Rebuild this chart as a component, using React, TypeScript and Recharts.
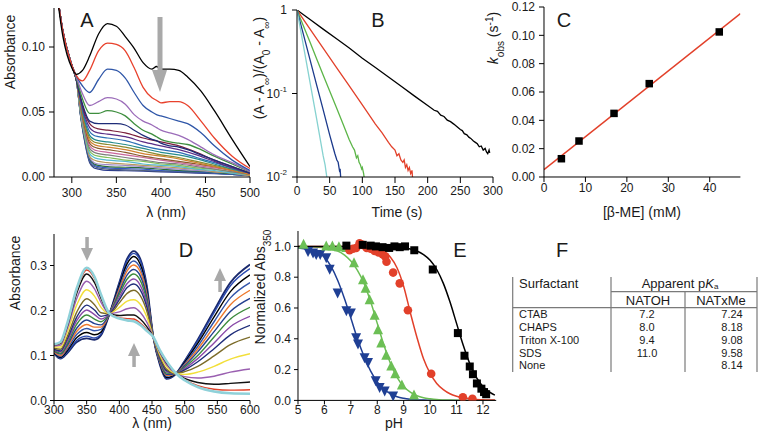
import React from "react";
import { LineChart, ComposedChart, Line, Scatter, XAxis, YAxis } from "recharts";

const FONT = "'Liberation Sans', Arial, Helvetica, sans-serif";
const INK = "#1a1a1a";
const GREY = "#a9a9a9";

// ---------- A: spectra (absorbance vs wavelength) ----------
const A_WL = [280, 290, 300, 305, 312, 320, 330, 340, 350, 360, 370, 380, 390, 395, 400, 410, 420, 430, 445, 460, 480, 500];
const A_BLACK = [0.16, 0.108, 0.084, 0.079, 0.082, 0.093, 0.11, 0.118, 0.116, 0.108, 0.099, 0.088, 0.083, 0.085, 0.083, 0.083, 0.082, 0.077, 0.066, 0.051, 0.029, 0.008];
const A_RED = [0.16, 0.112, 0.086, 0.078, 0.074, 0.082, 0.097, 0.103, 0.102, 0.097, 0.084, 0.069, 0.061, 0.059, 0.057, 0.058, 0.058, 0.055, 0.043, 0.03, 0.016, 0.0065];
const A_BLUE = [0.16, 0.112, 0.086, 0.078, 0.07, 0.065, 0.075, 0.083, 0.082, 0.076, 0.065, 0.055, 0.05, 0.048, 0.047, 0.045, 0.043, 0.041, 0.034, 0.024, 0.013, 0.005];
const A_PURPLE = [0.16, 0.112, 0.086, 0.077, 0.064, 0.055, 0.058, 0.061, 0.06, 0.056, 0.048, 0.043, 0.04, 0.038, 0.036, 0.034, 0.032, 0.029, 0.023, 0.017, 0.011, 0.004];
const A_GREEN = [0.16, 0.112, 0.086, 0.076, 0.06, 0.049, 0.049, 0.051, 0.05, 0.047, 0.041, 0.036, 0.033, 0.031, 0.029, 0.027, 0.026, 0.025, 0.021, 0.016, 0.01, 0.004];
const A_NAVY = [0.16, 0.112, 0.086, 0.075, 0.056, 0.043, 0.041, 0.041, 0.041, 0.04, 0.036, 0.032, 0.029, 0.028, 0.026, 0.024, 0.023, 0.021, 0.017, 0.013, 0.008, 0.003];

// the crowded late spectra near the baseline
const A_WL_LOW = [280, 290, 300, 305, 310, 315, 320, 325, 330, 340, 360, 380, 400, 420, 440, 460, 480, 500];
const A_LOW = [
  [0.16, 0.112, 0.086, 0.075, 0.06, 0.048, 0.041, 0.038, 0.037, 0.036, 0.034, 0.03, 0.027, 0.024, 0.019, 0.013, 0.008, 0.003],
  [0.16, 0.112, 0.086, 0.075, 0.059, 0.046, 0.038, 0.035, 0.034, 0.033, 0.031, 0.027, 0.024, 0.021, 0.017, 0.012, 0.007, 0.003],
  [0.16, 0.112, 0.086, 0.075, 0.058, 0.044, 0.035, 0.032, 0.031, 0.03, 0.028, 0.024, 0.021, 0.019, 0.015, 0.011, 0.007, 0.003],
  [0.16, 0.112, 0.086, 0.075, 0.057, 0.042, 0.032, 0.029, 0.028, 0.027, 0.025, 0.022, 0.019, 0.017, 0.014, 0.01, 0.006, 0.003],
  [0.16, 0.112, 0.086, 0.075, 0.056, 0.04, 0.03, 0.027, 0.026, 0.025, 0.023, 0.02, 0.017, 0.015, 0.012, 0.009, 0.006, 0.003],
  [0.16, 0.112, 0.086, 0.075, 0.055, 0.039, 0.028, 0.025, 0.024, 0.023, 0.021, 0.018, 0.016, 0.014, 0.011, 0.008, 0.005, 0.002],
  [0.16, 0.112, 0.086, 0.075, 0.054, 0.037, 0.026, 0.023, 0.022, 0.021, 0.019, 0.016, 0.014, 0.012, 0.01, 0.008, 0.005, 0.002],
  [0.16, 0.112, 0.086, 0.075, 0.053, 0.036, 0.024, 0.021, 0.02, 0.019, 0.017, 0.015, 0.013, 0.011, 0.009, 0.007, 0.005, 0.002],
  [0.16, 0.112, 0.086, 0.075, 0.052, 0.034, 0.022, 0.019, 0.018, 0.017, 0.015, 0.013, 0.011, 0.01, 0.008, 0.006, 0.004, 0.002],
  [0.16, 0.112, 0.086, 0.075, 0.051, 0.033, 0.02, 0.017, 0.016, 0.015, 0.013, 0.012, 0.01, 0.009, 0.007, 0.006, 0.004, 0.002],
  [0.16, 0.112, 0.086, 0.075, 0.05, 0.031, 0.018, 0.015, 0.014, 0.013, 0.012, 0.01, 0.009, 0.008, 0.006, 0.005, 0.003, 0.002],
  [0.16, 0.112, 0.086, 0.075, 0.049, 0.03, 0.016, 0.013, 0.012, 0.011, 0.01, 0.009, 0.008, 0.007, 0.006, 0.004, 0.003, 0.001],
  [0.16, 0.112, 0.086, 0.075, 0.048, 0.029, 0.015, 0.011, 0.01, 0.0095, 0.009, 0.008, 0.007, 0.006, 0.005, 0.004, 0.003, 0.001],
  [0.16, 0.112, 0.086, 0.075, 0.047, 0.028, 0.014, 0.01, 0.009, 0.008, 0.0075, 0.007, 0.006, 0.005, 0.0045, 0.0035, 0.0025, 0.001],
  [0.16, 0.112, 0.086, 0.075, 0.047, 0.027, 0.013, 0.009, 0.008, 0.007, 0.0065, 0.006, 0.005, 0.0045, 0.004, 0.003, 0.002, 0.001],
  [0.16, 0.112, 0.086, 0.075, 0.046, 0.026, 0.012, 0.008, 0.007, 0.006, 0.0055, 0.005, 0.0045, 0.004, 0.0035, 0.003, 0.002, 0.001],
  [0.16, 0.112, 0.086, 0.075, 0.046, 0.025, 0.011, 0.007, 0.006, 0.005, 0.0048, 0.0045, 0.004, 0.0035, 0.003, 0.0025, 0.002, 0.001],
];
const A_LOW_COLORS = ["#7a1f3d", "#5b2d86", "#2e6fb5", "#258c8c", "#8c8a2e", "#d2802f", "#8a5a2c", "#c9679c", "#7d7d7d", "#7fbf5a", "#55b9cf", "#b89a5a", "#9a86c9", "#2b6b3c", "#3558c0", "#4f5f7a", "#2a3b8f"];

// ---------- B: normalized decays (time in s, ratio) ----------
const B_BLACK: [number, number][] = [[0, 1], [20, 0.77], [40, 0.59], [60, 0.455], [80, 0.35], [100, 0.265], [120, 0.205], [140, 0.158], [160, 0.121], [180, 0.093], [200, 0.072], [210, 0.063], [215, 0.061], [220, 0.055], [225, 0.053], [230, 0.048], [235, 0.046], [240, 0.043], [245, 0.04], [250, 0.037], [253, 0.036], [256, 0.033], [260, 0.032], [263, 0.03], [266, 0.029], [270, 0.027], [273, 0.026], [276, 0.025], [279, 0.023], [282, 0.0235], [285, 0.021], [288, 0.022], [290, 0.02], [292, 0.019], [294, 0.021], [295, 0.0195]];
const B_RED: [number, number][] = [[0, 1], [20, 0.59], [40, 0.35], [60, 0.207], [80, 0.123], [100, 0.073], [120, 0.043], [130, 0.034], [140, 0.026], [145, 0.023], [150, 0.021], [153, 0.018], [156, 0.019], [159, 0.016], [162, 0.015], [164, 0.016], [166, 0.013], [168, 0.014], [170, 0.012], [172, 0.013], [174, 0.011], [176, 0.012], [177, 0.0095]];
const B_GREEN: [number, number][] = [[0, 1], [10, 0.64], [20, 0.41], [30, 0.26], [40, 0.167], [50, 0.107], [60, 0.069], [70, 0.044], [80, 0.028], [85, 0.023], [88, 0.021], [91, 0.017], [93, 0.018], [95, 0.015], [97, 0.014], [99, 0.0125], [100, 0.013], [102, 0.011], [103, 0.0095]];
const B_NAVY: [number, number][] = [[0, 1], [10, 0.503], [20, 0.253], [30, 0.127], [40, 0.064], [50, 0.032], [55, 0.023], [58, 0.019], [61, 0.016], [63, 0.015], [65, 0.012], [66, 0.0125], [67, 0.0095]];
const B_CYAN: [number, number][] = [[0, 1], [10, 0.367], [20, 0.135], [30, 0.05], [35, 0.03], [40, 0.018], [43, 0.014], [46, 0.0095]];

// ---------- C: k_obs vs [β-ME] ----------
const C_CONC = [4.2, 8.45, 16.9, 25.4, 42.3];
const C_KOBS = [0.0129, 0.0254, 0.0449, 0.0659, 0.1024];
const C_FIT_X = [0, 47.4];
const C_FIT_Y = [0.0052, 0.1153];

// ---------- D: pH series spectra ----------
const D_WL = [300, 310, 320, 335, 350, 362, 372, 385, 400, 412, 422, 432, 442, 452, 462, 472, 487, 500, 520, 545, 570, 600];
const D_SPECTRA = [
  [0.125, 0.13, 0.17, 0.25, 0.295, 0.275, 0.235, 0.193, 0.182, 0.178, 0.176, 0.168, 0.155, 0.141, 0.112, 0.088, 0.06, 0.045, 0.03, 0.02, 0.016, 0.015],
  [0.124, 0.129, 0.168, 0.246, 0.29, 0.271, 0.232, 0.193, 0.184, 0.182, 0.181, 0.172, 0.158, 0.141, 0.111, 0.087, 0.06, 0.046, 0.033, 0.025, 0.023, 0.024],
  [0.123, 0.127, 0.164, 0.239, 0.281, 0.262, 0.227, 0.193, 0.189, 0.19, 0.19, 0.181, 0.164, 0.141, 0.109, 0.084, 0.06, 0.049, 0.04, 0.036, 0.038, 0.041],
  [0.121, 0.123, 0.158, 0.227, 0.265, 0.248, 0.218, 0.193, 0.197, 0.204, 0.206, 0.196, 0.174, 0.141, 0.106, 0.08, 0.06, 0.053, 0.05, 0.054, 0.063, 0.07],
  [0.119, 0.119, 0.15, 0.213, 0.246, 0.232, 0.207, 0.193, 0.207, 0.221, 0.224, 0.214, 0.186, 0.141, 0.102, 0.076, 0.06, 0.058, 0.063, 0.076, 0.092, 0.104],
  [0.116, 0.114, 0.141, 0.197, 0.226, 0.213, 0.195, 0.193, 0.217, 0.238, 0.245, 0.233, 0.199, 0.141, 0.098, 0.07, 0.06, 0.064, 0.076, 0.099, 0.124, 0.141],
  [0.114, 0.11, 0.136, 0.186, 0.212, 0.201, 0.187, 0.193, 0.224, 0.251, 0.259, 0.246, 0.208, 0.141, 0.095, 0.067, 0.06, 0.068, 0.086, 0.115, 0.146, 0.167],
  [0.113, 0.108, 0.131, 0.178, 0.201, 0.191, 0.181, 0.193, 0.23, 0.26, 0.27, 0.256, 0.215, 0.141, 0.093, 0.064, 0.06, 0.071, 0.093, 0.128, 0.164, 0.187],
  [0.112, 0.105, 0.126, 0.17, 0.19, 0.181, 0.175, 0.193, 0.236, 0.27, 0.281, 0.267, 0.222, 0.141, 0.091, 0.061, 0.06, 0.074, 0.1, 0.141, 0.181, 0.207],
  [0.11, 0.103, 0.122, 0.161, 0.179, 0.171, 0.168, 0.193, 0.241, 0.279, 0.291, 0.277, 0.229, 0.141, 0.088, 0.058, 0.06, 0.077, 0.108, 0.153, 0.198, 0.227],
  [0.109, 0.1, 0.118, 0.154, 0.169, 0.163, 0.163, 0.193, 0.246, 0.288, 0.301, 0.286, 0.235, 0.141, 0.086, 0.056, 0.06, 0.079, 0.114, 0.164, 0.213, 0.245],
  [0.108, 0.098, 0.114, 0.147, 0.16, 0.155, 0.158, 0.193, 0.251, 0.296, 0.31, 0.294, 0.241, 0.141, 0.085, 0.054, 0.06, 0.082, 0.12, 0.175, 0.228, 0.262],
  [0.107, 0.096, 0.11, 0.14, 0.151, 0.146, 0.152, 0.193, 0.256, 0.304, 0.32, 0.303, 0.247, 0.141, 0.083, 0.051, 0.06, 0.085, 0.127, 0.186, 0.242, 0.279],
  [0.106, 0.094, 0.107, 0.134, 0.143, 0.139, 0.148, 0.193, 0.26, 0.311, 0.327, 0.311, 0.252, 0.141, 0.081, 0.049, 0.06, 0.087, 0.132, 0.195, 0.255, 0.293],
  [0.105, 0.093, 0.105, 0.13, 0.138, 0.135, 0.145, 0.193, 0.262, 0.315, 0.332, 0.315, 0.255, 0.141, 0.08, 0.048, 0.06, 0.088, 0.135, 0.2, 0.262, 0.302],
];
const D_COLORS = ["#8fd1d9", "#e2432a", "#111111", "#9a5fb0", "#f2df3a", "#7c6c2a", "#1f2d7a", "#8a4aa8", "#3d8b3d", "#24418f", "#ee7a2e", "#3355aa", "#000000", "#2a4ab0", "#1b2a6e"];

// ---------- E: normalized Abs350 vs pH ----------
const E_SDS_PH = [6.83, 7.45, 7.75, 7.95, 8.2, 8.45, 8.65, 8.85, 9.05, 9.4, 10.1, 11.05, 11.3, 11.5, 11.62, 11.77, 11.94, 12.04, 12.12];
const E_SDS_A = [1.005, 1.01, 1.005, 1.0, 0.995, 0.99, 1.0, 0.995, 1.0, 0.975, 0.85, 0.437, 0.29, 0.22, 0.17, 0.11, 0.076, 0.054, 0.04];
const E_TRITON_PH = [6.95, 7.08, 7.2, 7.33, 7.45, 7.6, 7.75, 7.9, 8.05, 8.2, 8.3, 8.35, 8.6, 8.85, 9.16, 10.04, 11.24, 11.6];
const E_TRITON_A = [0.975, 0.985, 0.99, 1.02, 1.01, 0.99, 0.985, 0.97, 0.96, 0.95, 0.935, 0.9, 0.83, 0.76, 0.585, 0.173, 0.02, 0.01];
const E_CHAPS_PH = [5.21, 6.07, 6.3, 6.55, 6.83, 7.12, 7.46, 7.56, 7.71, 7.9, 8.03, 8.15, 8.34, 8.53, 8.68, 8.93, 9.39];
const E_CHAPS_A = [1.01, 1.0, 1.0, 0.995, 0.99, 0.89, 0.78, 0.725, 0.65, 0.55, 0.455, 0.37, 0.29, 0.22, 0.17, 0.097, 0.032];
const E_CTAB_PH = [5.38, 5.57, 5.69, 5.84, 6.07, 6.2, 6.5, 6.83, 7.0, 7.2, 7.27, 7.52, 7.65, 7.94, 8.09, 8.28, 8.6];
const E_CTAB_A = [0.97, 0.96, 0.95, 0.95, 0.93, 0.855, 0.7, 0.585, 0.57, 0.41, 0.37, 0.28, 0.25, 0.13, 0.087, 0.065, 0.032];
const E_FIT_PH = [5, 5.5, 6, 6.25, 6.5, 6.75, 7, 7.25, 7.5, 7.75, 8, 8.25, 8.5, 8.75, 9, 9.25, 9.5, 9.75, 10, 10.25, 10.5, 10.75, 11, 11.25, 11.5, 11.75, 12, 12.25, 12.45];
const E_FIT_SDS = [1, 1, 1, 1, 1, 1, 1, 1, 1, 0.999, 0.999, 0.998, 0.997, 0.994, 0.99, 0.983, 0.97, 0.947, 0.91, 0.85, 0.76, 0.64, 0.5, 0.36, 0.24, 0.15, 0.091, 0.053, 0.034];
const E_FIT_TRITON = [1, 1, 1, 1, 1, 1, 1, 1, 1, 1, 0.985, 0.965, 0.93, 0.86, 0.74, 0.57, 0.41, 0.27, 0.175, 0.11, 0.07, 0.043, 0.027, 0.017, 0.01, 0.006, 0.004, 0.002, 0.002];
const E_FIT_CHAPS = [1, 0.998, 0.99, 0.98, 0.97, 0.945, 0.905, 0.845, 0.76, 0.64, 0.5, 0.36, 0.24, 0.15, 0.09, 0.053, 0.03, 0.017, 0.01, 0.005, 0.003, 0.002, 0.001, 0, 0, 0, 0, 0, 0];
const E_FIT_CTAB = [0.99, 0.975, 0.93, 0.87, 0.78, 0.665, 0.535, 0.4, 0.285, 0.19, 0.12, 0.072, 0.043, 0.024, 0.014, 0.008, 0.004, 0.002, 0.001, 0, 0, 0, 0, 0, 0, 0, 0, 0, 0];

// ---------- F: table ----------
const F_SURFACTANTS = ["CTAB", "CHAPS", "Triton X-100", "SDS", "None"];
const F_NATOH = [7.2, 8.0, 9.4, 11.0, null];
const F_NATXME = [7.24, 8.18, 9.08, 9.58, 8.14];

const zip = (xs: number[], ys: number[]) => xs.map((x, i) => ({ x, y: ys[i] }));
const fromPairs = (ps: [number, number][]) => ps.map(([x, y]) => ({ x, y }));

// plot rectangles in page pixels
const PL = 50, PT = 10, PR = 10, PB = 30;
type Box = { x0: number; y0: number; x1: number; y1: number };
const BOX_A: Box = { x0: 54, y0: 7.7, x1: 250, y1: 176.7 };
const BOX_B: Box = { x0: 297.3, y0: 10, x1: 493.3, y1: 177 };
const BOX_C: Box = { x0: 544.3, y0: 7.3, x1: 740.7, y1: 177.3 };
const BOX_D: Box = { x0: 54, y0: 233.5, x1: 250, y1: 400 };
const BOX_E: Box = { x0: 298.3, y0: 230.6, x1: 496.5, y1: 400 };

const place = (b: Box) => ({
  style: { position: "absolute" as const, left: b.x0 - PL, top: b.y0 - PT },
  w: b.x1 - b.x0 + PL + PR,
  h: b.y1 - b.y0 + PT + PB,
});
const MARGIN = { top: PT, right: PR, left: 0, bottom: 0 };
const tickStyle = { fill: INK, fontSize: 12, fontFamily: FONT };

function PowTick(props: any) {
  const { x, y, payload } = props;
  const e = Math.round(Math.log10(payload.value));
  return (
    <text x={x} y={y} dy={4} textAnchor="end" fontSize={12} fontFamily={FONT} fill={INK}>
      {e === 0 ? "1" : (<>10<tspan fontSize={8} dy={-6}>{`${e}`}</tspan></>)}
    </text>
  );
}

const square = (size: number, fill: string) => (p: any) =>
  <rect x={p.cx - size / 2} y={p.cy - size / 2} width={size} height={size} fill={fill} />;
const circle = (r: number, fill: string) => (p: any) => <circle cx={p.cx} cy={p.cy} r={r} fill={fill} />;
const triUp = (s: number, fill: string) => (p: any) =>
  <polygon points={`${p.cx},${p.cy - s * 0.6} ${p.cx - s / 2},${p.cy + s * 0.4} ${p.cx + s / 2},${p.cy + s * 0.4}`} fill={fill} />;
const triDown = (s: number, fill: string) => (p: any) =>
  <polygon points={`${p.cx},${p.cy + s * 0.6} ${p.cx - s / 2},${p.cy - s * 0.4} ${p.cx + s / 2},${p.cy - s * 0.4}`} fill={fill} />;

function PanelA() {
  const f = place(BOX_A);
  const top = [
    { d: A_NAVY, c: "#1e2c78" }, { d: A_GREEN, c: "#3e8e3e" }, { d: A_PURPLE, c: "#9b6cb9" },
    { d: A_BLUE, c: "#2f56a8" }, { d: A_RED, c: "#e8412c" }, { d: A_BLACK, c: "#000000" },
  ];
  return (
    <div style={f.style}>
      <LineChart width={f.w} height={f.h} margin={MARGIN}>
        <XAxis type="number" dataKey="x" domain={[280, 500]} ticks={[300, 350, 400, 450, 500]} height={PB}
          allowDataOverflow interval={0} stroke="#000" tickSize={6} tickMargin={5} tick={tickStyle} />
        <YAxis type="number" dataKey="y" domain={[0, 0.13]} ticks={[0, 0.05, 0.1]} width={PL} allowDataOverflow
          interval={0} stroke="#000" tickSize={5} tickMargin={4} tick={tickStyle} tickFormatter={(v) => v.toFixed(2)} />
        {A_LOW.slice().reverse().map((vals, i) => (
          <Line key={`low${i}`} data={zip(A_WL_LOW, vals)} dataKey="y" type="monotone" dot={false}
            stroke={A_LOW_COLORS[A_LOW.length - 1 - i]} strokeWidth={1.2} isAnimationActive={false} />
        ))}
        {top.map((s, i) => (
          <Line key={`top${i}`} data={zip(A_WL, s.d)} dataKey="y" type="monotone" dot={false}
            stroke={s.c} strokeWidth={1.3} isAnimationActive={false} />
        ))}
      </LineChart>
    </div>
  );
}

function PanelB() {
  const f = place(BOX_B);
  const series = [
    { d: B_BLACK, c: "#000000" }, { d: B_RED, c: "#e2402a" }, { d: B_GREEN, c: "#5cb548" },
    { d: B_NAVY, c: "#1c3a8c" }, { d: B_CYAN, c: "#86d2d0" },
  ];
  return (
    <div style={f.style}>
      <LineChart width={f.w} height={f.h} margin={MARGIN}>
        <XAxis type="number" dataKey="x" domain={[0, 300]} ticks={[0, 50, 100, 150, 200, 250, 300]} height={PB}
          allowDataOverflow interval={0} stroke="#000" tickSize={6} tickMargin={3} tick={tickStyle} />
        <YAxis type="number" dataKey="y" scale="log" domain={[0.01, 1]} ticks={[0.01, 0.1, 1]} width={PL}
          allowDataOverflow interval={0} stroke="#000" tickSize={5} tickMargin={5} tick={<PowTick />} />
        {series.map((s, i) => (
          <Line key={i} data={fromPairs(s.d)} dataKey="y" type="linear" dot={false}
            stroke={s.c} strokeWidth={1.3} isAnimationActive={false} />
        ))}
      </LineChart>
    </div>
  );
}

function PanelC() {
  const f = place(BOX_C);
  return (
    <div style={f.style}>
      <ComposedChart width={f.w} height={f.h} margin={MARGIN}>
        <XAxis type="number" dataKey="x" domain={[0, 47.4]} ticks={[0, 10, 20, 30, 40]} height={PB}
          allowDataOverflow interval={0} stroke="#000" tickSize={5} tickMargin={1} tick={tickStyle} />
        <YAxis type="number" dataKey="y" domain={[0, 0.12]} ticks={[0, 0.02, 0.04, 0.06, 0.08, 0.1, 0.12]} width={PL}
          allowDataOverflow interval={0} stroke="#000" tickSize={5} tickMargin={4} tick={tickStyle}
          tickFormatter={(v) => v.toFixed(2)} />
        <Line data={zip(C_FIT_X, C_FIT_Y)} dataKey="y" type="linear" dot={false} stroke="#e2402a"
          strokeWidth={1.4} isAnimationActive={false} />
        <Scatter data={zip(C_CONC, C_KOBS)} dataKey="y" shape={square(7.5, "#000")} isAnimationActive={false} />
      </ComposedChart>
    </div>
  );
}

function PanelD() {
  const f = place(BOX_D);
  const order = D_SPECTRA.map((_, i) => i).reverse(); // cyan end-member drawn last
  return (
    <div style={f.style}>
      <LineChart width={f.w} height={f.h} margin={MARGIN}>
        <XAxis type="number" dataKey="x" domain={[300, 600]} ticks={[300, 350, 400, 450, 500, 550, 600]} height={PB}
          allowDataOverflow interval={0} stroke="#000" tickSize={4} tickMargin={1} tick={tickStyle} />
        <YAxis type="number" dataKey="y" domain={[0, 0.37]} ticks={[0, 0.1, 0.2, 0.3]} width={PL} allowDataOverflow
          interval={0} stroke="#000" tickSize={4} tickMargin={3} tick={tickStyle} tickFormatter={(v) => v.toFixed(1)} />
        {order.map((i) => (
          <Line key={i} data={zip(D_WL, D_SPECTRA[i])} dataKey="y" type="monotone" dot={false}
            stroke={D_COLORS[i]} strokeWidth={i === 0 ? 2.6 : i === D_SPECTRA.length - 1 ? 1.9 : 1.4}
            isAnimationActive={false} />
        ))}
      </LineChart>
    </div>
  );
}

function PanelE() {
  const f = place(BOX_E);
  const fits = [
    { d: E_FIT_CTAB, c: "#1f3f94" }, { d: E_FIT_CHAPS, c: "#6cbf55" },
    { d: E_FIT_TRITON, c: "#e2402a" }, { d: E_FIT_SDS, c: "#000000" },
  ];
  return (
    <div style={f.style}>
      <ComposedChart width={f.w} height={f.h} margin={MARGIN}>
        <XAxis type="number" dataKey="x" domain={[5, 12.5]} ticks={[5, 6, 7, 8, 9, 10, 11, 12]} height={PB}
          allowDataOverflow interval={0} stroke="#000" tickSize={4} tickMargin={1} tick={tickStyle} />
        <YAxis type="number" dataKey="y" domain={[0, 1.1]} ticks={[0, 0.2, 0.4, 0.6, 0.8, 1.0]} width={PL}
          allowDataOverflow interval={0} stroke="#000" tickSize={4} tickMargin={3} tick={tickStyle}
          tickFormatter={(v) => v.toFixed(1)} />
        {fits.map((s, i) => (
          <Line key={i} data={zip(E_FIT_PH, s.d)} dataKey="y" type="monotone" dot={false}
            stroke={s.c} strokeWidth={1.5} isAnimationActive={false} />
        ))}
        <Scatter data={zip(E_CTAB_PH, E_CTAB_A)} dataKey="y" shape={triDown(10, "#1f3f94")} isAnimationActive={false} />
        <Scatter data={zip(E_CHAPS_PH, E_CHAPS_A)} dataKey="y" shape={triUp(10, "#6cbf55")} isAnimationActive={false} />
        <Scatter data={zip(E_TRITON_PH, E_TRITON_A)} dataKey="y" shape={circle(4.3, "#e2402a")} isAnimationActive={false} />
        <Scatter data={zip(E_SDS_PH, E_SDS_A)} dataKey="y" shape={square(8, "#000")} isAnimationActive={false} />
      </ComposedChart>
    </div>
  );
}

function Overlay() {
  const sub = { fontSize: 10, baselineShift: "sub" } as any;
  const sup = { fontSize: 10, baselineShift: "super" } as any;
  const rowY = (i: number) => 318.3 + i * 12.75;
  return (
    <svg width={760} height={440} style={{ position: "absolute", left: 0, top: 0, pointerEvents: "none" }}
      fontFamily={FONT} fill={INK}>
      {/* panel letters */}
      <g fontSize={20}>
        <text x={87} y={27} textAnchor="middle">A</text>
        <text x={378} y={27} textAnchor="middle">B</text>
        <text x={564} y={27} textAnchor="middle">C</text>
        <text x={186} y={257} textAnchor="middle">D</text>
        <text x={460} y={257} textAnchor="middle">E</text>
        <text x={562} y={257} textAnchor="middle">F</text>
      </g>
      {/* axis titles */}
      <g fontSize={14}>
        <text transform="rotate(-90 15 52)" x={15} y={52} textAnchor="middle">Absorbance</text>
        <text transform="rotate(-90 20 273)" x={20} y={273} textAnchor="middle">Absorbance</text>
        <text transform="rotate(-90 264 68)" x={264} y={68} textAnchor="middle">
          (A - A<tspan {...sub}>∞</tspan>)/(A<tspan {...sub}>0</tspan> - A<tspan {...sub}>∞</tspan>)
        </text>
        <text transform="rotate(-90 498 38)" x={498} y={38} textAnchor="middle">
          <tspan fontStyle="italic">k</tspan><tspan {...sub}>obs</tspan> (s<tspan {...sup}>-1</tspan>)
        </text>
        <text transform="rotate(-90 265 287)" x={265} y={287} textAnchor="middle">
          Normalized Abs<tspan {...sub}>350</tspan>
        </text>
        <text x={166} y={217} textAnchor="middle">λ (nm)</text>
        <text x={397} y={217} textAnchor="middle">Time (s)</text>
        <text x={642} y={217} textAnchor="middle">[β-ME] (mM)</text>
        <text x={152} y={428} textAnchor="middle">λ (nm)</text>
        <text x={394} y={428} textAnchor="middle">pH</text>
      </g>
      {/* arrows */}
      <g fill={GREY}>
        <rect x={157.5} y={17} width={5} height={55} />
        <polygon points="152,70 167,70 160,92" />
        <rect x={85.3} y={237} width={3.5} height={13} />
        <polygon points="81,248 93,248 87,261" />
        <rect x={132.3} y={354} width={3.5} height={13} />
        <polygon points="128,356 140,356 134,343" />
        <rect x={218.3} y={279} width={3.5} height={13} />
        <polygon points="214,281 226,281 220,268" />
      </g>
      {/* table F */}
      <g stroke="#7a7a7a" strokeWidth={1.2}>
        <line x1={512.7} y1={277} x2={512.7} y2={372} />
        <line x1={611} y1={277} x2={611} y2={372} />
        <line x1={685} y1={292} x2={685} y2={372} />
        <line x1={757} y1={277} x2={757} y2={372} />
        <line x1={611} y1={291.7} x2={757} y2={291.7} />
        <line x1={512.7} y1={307.7} x2={757} y2={307.7} />
      </g>
      <g fontSize={13}>
        <text x={519} y={288}>Surfactant</text>
        <text x={680} y={287.5} textAnchor="middle">
          Apparent p<tspan fontStyle="italic">K</tspan><tspan fontSize={8} dy={1}>a</tspan>
        </text>
        <text x={648} y={305} textAnchor="middle">NATOH</text>
        <text x={721} y={305} textAnchor="middle">NATxMe</text>
      </g>
      <g fontSize={11}>
        {F_SURFACTANTS.map((s, i) => (
          <g key={s}>
            <text x={519} y={rowY(i)}>{s}</text>
            {F_NATOH[i] != null && (
              <text x={647} y={rowY(i)} textAnchor="middle">{(F_NATOH[i] as number).toFixed(1)}</text>
            )}
            <text x={732} y={rowY(i)} textAnchor="middle">{F_NATXME[i].toFixed(2)}</text>
          </g>
        ))}
      </g>
    </svg>
  );
}

export default function App() {
  return (
    <div style={{ position: "relative", width: 760, height: 440, background: "#fff", overflow: "hidden" }}>
      <style>{"body{margin:0}"}</style>
      <PanelA />
      <PanelB />
      <PanelC />
      <PanelD />
      <PanelE />
      <Overlay />
    </div>
  );
}
